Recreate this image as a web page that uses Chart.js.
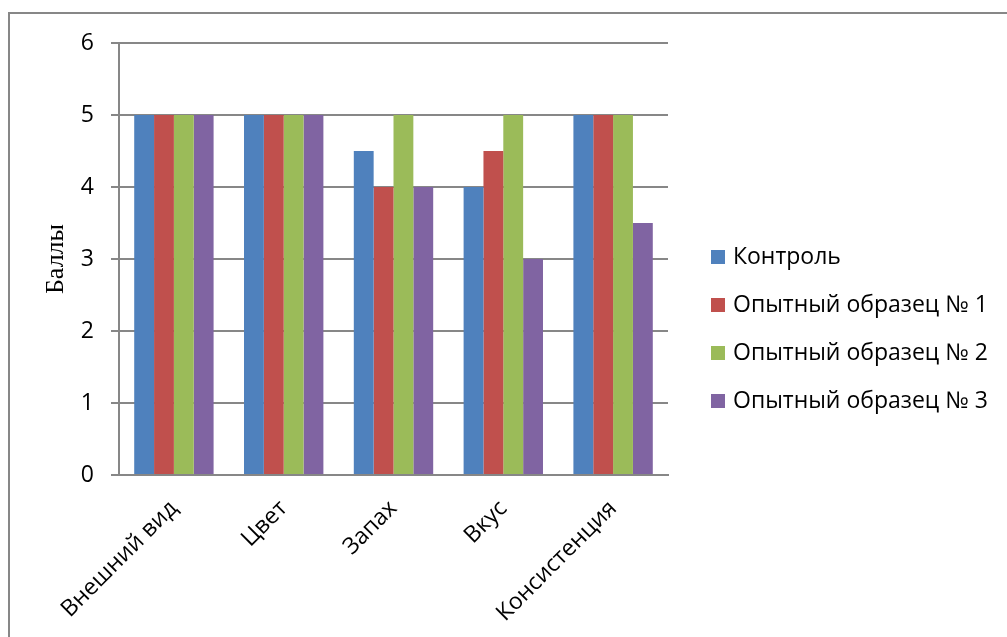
<!DOCTYPE html>
<html>
<head>
<meta charset="utf-8">
<script src="https://cdn.jsdelivr.net/npm/chart.js@4"></script>
<style>
  body { margin: 0; background: #fff; }
</style>
</head>
<body>
<canvas id="scoresChart" width="1007" height="637"></canvas>
<script>
const categories = ['Внешний вид', 'Цвет', 'Запах', 'Вкус', 'Консистенция'];
const control = [5, 5, 4.5, 4, 5];
const sample1 = [5, 5, 4, 4.5, 5];
const sample2 = [5, 5, 5, 5, 5];
const sample3 = [5, 5, 4, 3, 3.5];
const yTicks = [0, 1, 2, 3, 4, 5, 6];

const gridColor = '#878787';
const font = 'Open Sans';

// frame like the one around the excel chart (only top and left are visible)
const frame = {
    id: 'frame',
    beforeDraw(chart) {
        const c = chart.ctx;
        c.save();
        c.strokeStyle = gridColor;
        c.lineWidth = 2;
        c.beginPath();
        c.moveTo(9, 637);
        c.lineTo(9, 13);
        c.lineTo(1007, 13);
        c.stroke();
        c.restore();
    }
};

// the built-in legend gets squeezed to half the width, so draw it here
const sideLegend = {
    id: 'sideLegend',
    afterDraw(chart) {
        const c = chart.ctx;
        const x = chart.chartArea.right + 43;
        c.save();
        c.font = '23px "' + font + '"';
        c.textBaseline = 'middle';
        chart.data.datasets.forEach((ds, i) => {
            const y = 257 + i * 48;
            c.fillStyle = ds.backgroundColor;
            c.fillRect(x, y - 7, 14, 14);
            c.fillStyle = '#000';
            c.fillText(ds.label, x + 22, y);
        });
        c.restore();
    }
};

Chart.defaults.color = '#000';
Chart.defaults.font.family = font;

const ctx = document.getElementById('scoresChart');

new Chart(ctx, {
    type: 'bar',
    data: {
        labels: categories,
        datasets: [
            { label: 'Контроль', data: control, backgroundColor: '#4F81BD' },
            { label: 'Опытный образец № 1', data: sample1, backgroundColor: '#C0504D' },
            { label: 'Опытный образец № 2', data: sample2, backgroundColor: '#9BBB59' },
            { label: 'Опытный образец № 3', data: sample3, backgroundColor: '#8064A2' }
        ]
    },
    options: {
        responsive: false,
        animation: false,
        datasets: {
            bar: { categoryPercentage: 0.723, barPercentage: 1 }
        },
        layout: {
            padding: { top: 43, left: 0, right: 339, bottom: 0 }
        },
        plugins: {
            tooltip: { enabled: false },
            legend: { display: false }
        },
        scales: {
            x: {
                grid: { display: false },
                border: { display: true, color: gridColor, width: 2 },
                ticks: {
                    minRotation: 45,
                    maxRotation: 45,
                    padding: 12,
                    font: { size: 23 }
                },
                afterFit: s => { s.height = 162; }
            },
            y: {
                min: 0,
                max: 6,
                afterBuildTicks: s => { s.ticks = yTicks.map(v => ({ value: v })); },
                grid: { color: gridColor, lineWidth: 2, tickLength: 8 },
                border: { display: true, color: gridColor, width: 2 },
                ticks: { padding: 17, font: { size: 23 } },
                title: {
                    display: true,
                    text: 'Баллы',
                    padding: { top: 41, bottom: 0 },
                    font: { family: 'Liberation Serif', size: 26 }
                },
                afterFit: s => { s.width = 119; }
            }
        }
    },
    plugins: [frame, sideLegend]
});
</script>
</body>
</html>
